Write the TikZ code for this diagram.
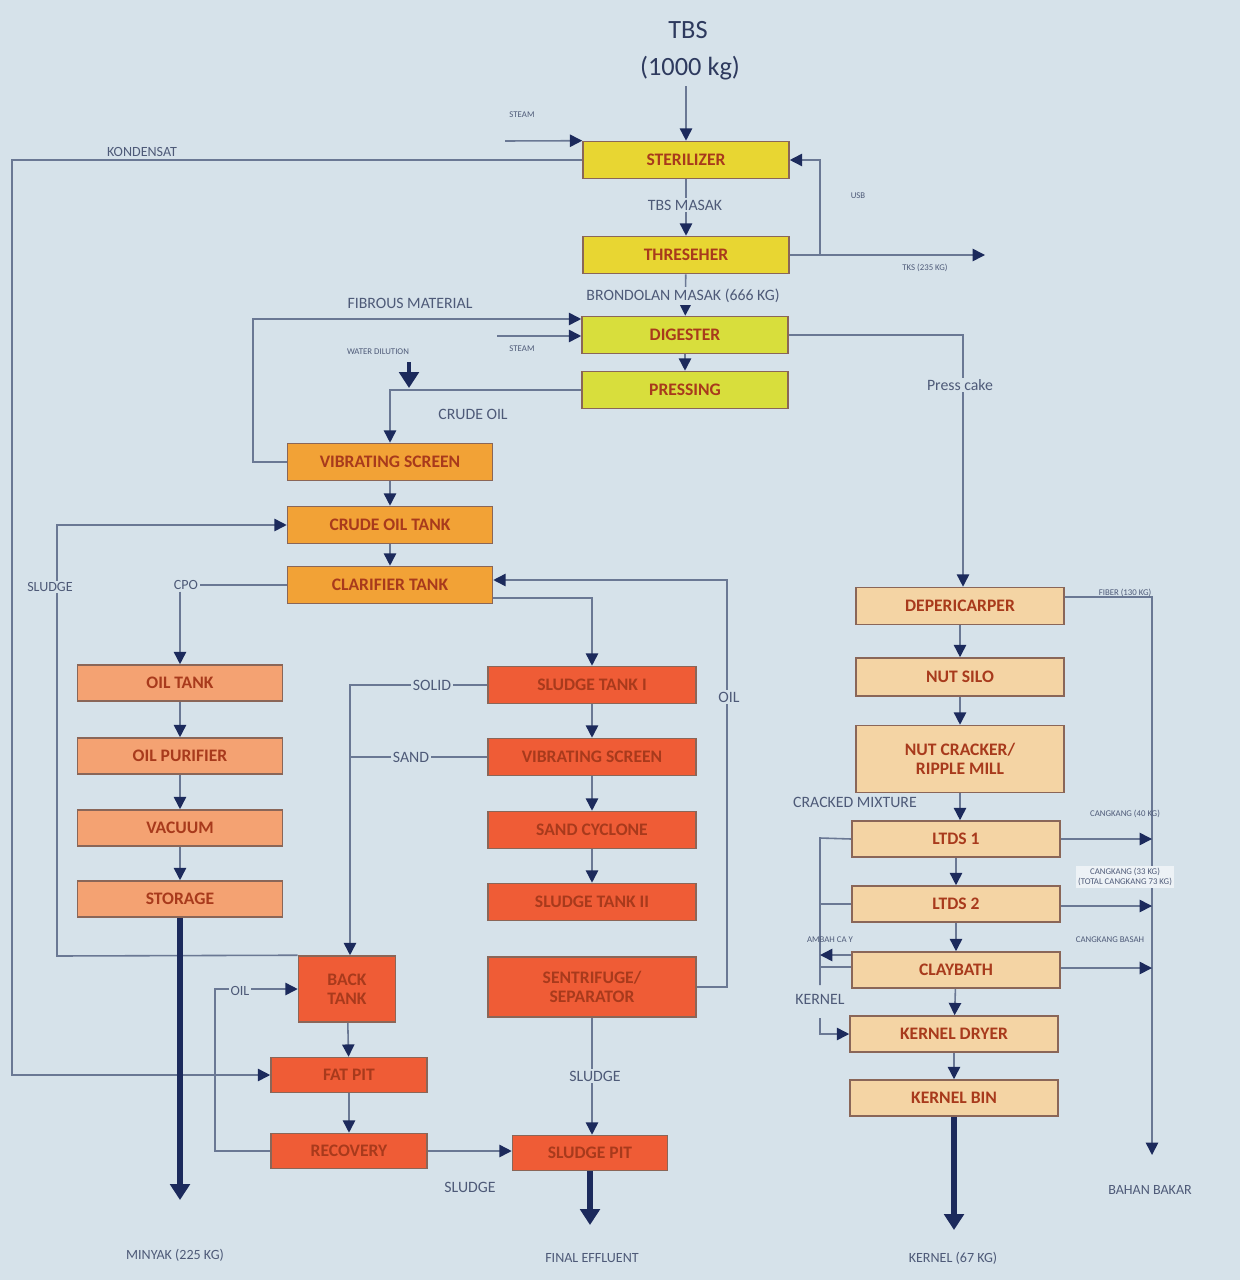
\documentclass[tikz,border=0pt]{standalone}
\usepackage{fontspec}
\setmainfont{Carlito}
\usetikzlibrary{arrows.meta}
\definecolor{bgc}{HTML}{D6E2EA}
\definecolor{cyel}{HTML}{E8D632}
\definecolor{cgrn}{HTML}{D8DE3C}
\definecolor{cora}{HTML}{F2A236}
\definecolor{coil}{HTML}{F4A272}
\definecolor{cred}{HTML}{EF5C36}
\definecolor{cbeg}{HTML}{F4D4A4}
\definecolor{edgec}{HTML}{8A6658}
\definecolor{boxtxt}{HTML}{A83A1C}
\definecolor{linec}{HTML}{6A7894}
\definecolor{tipc}{HTML}{1C2A5C}
\definecolor{lblc}{HTML}{4E5A78}
\definecolor{titlec}{HTML}{2E3A5E}
\tikzset{
  pbox/.style={draw=edgec, line width=0.9pt, font=\bfseries\fontsize{10}{11}\selectfont, text=boxtxt,
    inner sep=1pt, align=center, minimum width=4.12cm, minimum height=0.74cm},
  yelbox/.style={pbox, fill=cyel},
  grnbox/.style={pbox, fill=cgrn},
  orbox/.style={pbox, fill=cora, minimum width=4.1cm},
  oilbox/.style={pbox, fill=coil, minimum width=4.1cm, minimum height=0.72cm},
  redbox/.style={pbox, fill=cred, minimum width=4.16cm},
  begbox/.style={pbox, fill=cbeg, minimum width=4.16cm, minimum height=0.72cm},
  flow/.style={draw=linec, line width=0.9pt, -{Triangle[length=7pt,width=7pt,color=tipc]}},
  plain/.style={draw=linec, line width=0.9pt},
  outarrow/.style={draw=tipc, line width=3pt, -{Triangle[length=9pt,width=11pt,color=tipc]}},
  lbl/.style={font=\fontsize{9}{10}\selectfont, text=lblc, inner sep=1pt},
  lblf/.style={lbl, fill=bgc},
  tinyl/.style={font=\fontsize{5}{6}\selectfont, text=lblc, inner sep=1pt},
  botl/.style={font=\fontsize{8}{9}\selectfont, text=lblc, inner sep=1pt},
}
\begin{document}
\begin{tikzpicture}[x=0.02cm,y=-0.02cm]
\fill[bgc] (0,0) rectangle (1240,1280);
\useasboundingbox (0,0) rectangle (1240,1280);

% title
\node[font=\fontsize{15}{16}\selectfont, text=titlec] (tbs) at (688,30) {TBS};
\node[font=\fontsize{15}{16}\selectfont, text=titlec] (tbs2) at (690,68) {(1000 kg)};

% main column
\node[yelbox] (ster) at (686,160) {STERILIZER};
\node[yelbox] (thr) at (686,255) {THRESEHER};
\node[grnbox] (dig) at (685,335) {DIGESTER};
\node[grnbox] (pre) at (685,390) {PRESSING};
\node[orbox] (vs1) at (390,462) {VIBRATING SCREEN};
\node[orbox] (cot) at (390,525) {CRUDE OIL TANK};
\node[orbox] (cla) at (390,585) {CLARIFIER TANK};

% oil column
\node[oilbox] (ot) at (180,683) {OIL TANK};
\node[oilbox] (op) at (180,756) {OIL PURIFIER};
\node[oilbox] (vac) at (180,828) {VACUUM};
\node[oilbox] (sto) at (180,899) {STORAGE};

% sludge column
\node[redbox] (st1) at (592,685) {SLUDGE TANK I};
\node[redbox] (vs2) at (592,757) {VIBRATING SCREEN};
\node[redbox] (sc) at (592,830) {SAND CYCLONE};
\node[redbox] (st2) at (592,902) {SLUDGE TANK II};
\node[redbox, minimum height=1.2cm] (sep) at (592,987) {SENTRIFUGE/\\SEPARATOR};
\node[redbox, minimum width=1.94cm, minimum height=1.32cm] (bt) at (347,989) {BACK\\TANK};
\node[redbox, minimum width=3.12cm, minimum height=0.7cm] (fat) at (349,1075) {FAT PIT};
\node[redbox, minimum width=3.12cm, minimum height=0.7cm] (rec) at (349,1151) {RECOVERY};
\node[redbox, minimum width=3.1cm, minimum height=0.7cm] (sp) at (590,1153) {SLUDGE PIT};

% kernel column
\node[begbox, minimum height=0.74cm] (dep) at (960,606) {DEPERICARPER};
\node[begbox, minimum height=0.76cm] (ns) at (960,677) {NUT SILO};
\node[begbox, minimum height=1.34cm] (nc) at (960,759) {NUT CRACKER/\\RIPPLE MILL};
\node[begbox] (l1) at (956,839) {LTDS 1};
\node[begbox] (l2) at (956,904) {LTDS 2};
\node[begbox] (cb) at (956,970) {CLAYBATH};
\node[begbox] (kd) at (954,1034) {KERNEL DRYER};
\node[begbox] (kb) at (954,1098) {KERNEL BIN};

% bottom outputs
\node[botl] (minyak) at (175,1255) {MINYAK (225 KG)};
\node[botl] (fe) at (592,1258) {FINAL EFFLUENT};
\node[botl] (ker) at (953,1258) {KERNEL (67 KG)};
\node[botl] (bb) at (1150,1190) {BAHAN BAKAR};
\coordinate (minEnd) at (180,1200);
\coordinate (feEnd) at (590,1225);
\coordinate (kerEnd) at (954,1230);
\coordinate (bbEnd) at (1152,1155);

% ---- connectors ----
\draw[flow] (tbs2.south -| ster.north) -- (ster.north);

\coordinate (steamA) at (505,141);
\draw[flow] (steamA) -- (ster.north west);
\node[tinyl] (steamL) at (522,115) {STEAM};

\coordinate (k1) at (12,160);
\coordinate (k2) at (12,1075);
\draw[flow] (ster.west) -- (k1) -- (k2) -- (fat.west);
\node[lblf, font=\fontsize{8}{9}\selectfont] (kond) at (142,152) {KONDENSAT};

\draw[flow] (ster) -- (thr);
\node[lblf] (tbsm) at (685,205) {TBS MASAK};

\coordinate (tksEnd) at (985,255);
\draw[flow] (thr.east) -- (tksEnd);
\node[tinyl] (tksL) at (925,268) {TKS (235 KG)};
\coordinate (usb1) at (820,255);
\draw[flow] (usb1) |- (ster.east);
\node[tinyl] (usbL) at (858,196) {USB};

\draw[flow] (thr) -- (dig);
\node[lblf] (brond) at (683,296) {BRONDOLAN MASAK (666 KG)};

\coordinate (f1) at (253,319);
\draw[flow] (vs1.west) -| (f1) -- (f1 -| dig.west);
\node[lbl] (fibL) at (410,303) {FIBROUS MATERIAL};

\coordinate (st2a) at (497,336);
\draw[flow] (st2a) -- (st2a -| dig.west);
\node[tinyl] (steam2L) at (522,349) {STEAM};

\draw[flow] (dig) -- (pre);

\coordinate (pc) at (963,335);
\draw[flow] (dig.east) -- (pc) -- (pc |- dep.north);
\node[lblf] (pcL) at (960,385) {Press cake};

\node[tinyl] (wdL) at (378,352) {WATER DILUTION};
\coordinate (wd1) at (409,362);
\coordinate (wd2) at (409,388);
\draw[outarrow, line width=2.2pt] (wd1) -- (wd2);

\coordinate (c1) at (390,390);
\draw[flow] (pre.west) -- (c1) -- (vs1.north);
\node[lbl] (coL) at (473,414) {CRUDE OIL};

\draw[flow] (vs1) -- (cot);
\draw[flow] (cot) -- (cla);

\coordinate (sl1) at (57,956);
\draw[flow] (bt.north west) -- (sl1) -- (sl1 |- cot.west) -- (cot.west);
\node[lblf, font=\fontsize{8}{9}\selectfont] (sludgeL) at (50,587) {SLUDGE};

\node[lbl, font=\fontsize{8}{9}\selectfont] (cpo) at (186,585) {CPO};
\draw[plain] (cla.west) -- (cpo.east);
\draw[flow] (cpo.south -| ot.north) -- (ot.north);

\draw[flow] (ot) -- (op);
\draw[flow] (op) -- (vac);
\draw[flow] (vac) -- (sto);
\draw[outarrow] (sto.south) -- (minEnd);

\draw[flow] ([yshift=-0.26cm]cla.east) -| (st1.north);

\coordinate (o1) at (727,580);
\draw[flow] (sep.east) -| (o1) -- (o1 -| cla.east);
\node[lblf] (oilL) at (729,697) {OIL};

\coordinate (so1) at (350,685);
\draw[flow] (st1.west) -- (so1) -- (so1 |- bt.north);
\node[lblf] (solidL) at (432,685) {SOLID};
\draw[plain] (vs2.west) -- (vs2.west -| so1);
\node[lblf] (sandL) at (411,757) {SAND};

\draw[flow] (st1) -- (vs2);
\draw[flow] (vs2) -- (sc);
\draw[flow] (sc) -- (st2);

\draw[flow] (sep.south) -- (sep.south |- sp.north);
\node[lblf] (sl2L) at (595,1076) {SLUDGE};

\draw[flow] (bt) -- (fat);
\draw[flow] (fat) -- (rec);

\coordinate (ol1) at (215,1151);
\draw[flow] (rec.west) -- (ol1) |- (bt.west);
\node[lblf, font=\fontsize{8}{9}\selectfont] (oil2L) at (240,991) {OIL};

\draw[flow] (rec.east) -- (sp.west |- rec.east);
\node[lbl] (sl3L) at (470,1187) {SLUDGE};
\draw[outarrow] (sp.south) -- (feEnd);

% kernel chain
\draw[flow] (dep) -- (ns);
\draw[flow] (ns) -- (nc);
\draw[flow] (nc.south) -- (nc.south |- l1.north);
\node[lbl] (cmL) at (855,802) {CRACKED MIXTURE};
\draw[flow] (l1) -- (l2);
\draw[flow] (l2) -- (cb);
\draw[flow] (cb) -- (kd);
\draw[flow] (kd) -- (kb);
\draw[outarrow] (kb.south) -- (kerEnd);

\coordinate (fb) at (1152,597);
\draw[flow] ([yshift=0.18cm]dep.east) -- (fb) -- (bbEnd);
\node[tinyl] (fibrL) at (1125,593) {FIBER (130 KG)};

\draw[flow] (l1.east) -- (l1.east -| fb);
\node[tinyl] (cg1) at (1125,814) {CANGKANG (40 KG)};
\draw[flow] ([yshift=-0.04cm]l2.east) -- ([yshift=-0.04cm]l2.east -| fb);
\node[tinyl, fill=white!55!bgc, align=center] (cg2) at (1125,877) {CANGKANG (33 KG)\\(TOTAL CANGKANG 73 KG)};
\draw[flow] ([yshift=0.04cm]cb.east) -- ([yshift=0.04cm]cb.east -| fb);
\node[tinyl] (cg3) at (1110,940) {CANGKANG BASAH};

\coordinate (lv1) at (820,838);
\coordinate (lv2) at (820,985);
\draw[plain] (l1.west) -- (lv1) -- (lv2);
\draw[plain] (l2.west) -- (l2.west -| lv1);
\draw[flow] ([yshift=0.3cm]cb.west) -- ([yshift=0.3cm]cb.west -| lv1);
\draw[plain] ([yshift=0.06cm]cb.west) -- ([yshift=0.06cm]cb.west -| lv1);
\node[tinyl] (ampL) at (830,940) {AMBAH CA Y};

\node[lbl] (kerL) at (820,999) {KERNEL};
\coordinate (kr1) at (820,1018);
\draw[flow] (kr1) |- (kd.west);
\end{tikzpicture}
\end{document}
